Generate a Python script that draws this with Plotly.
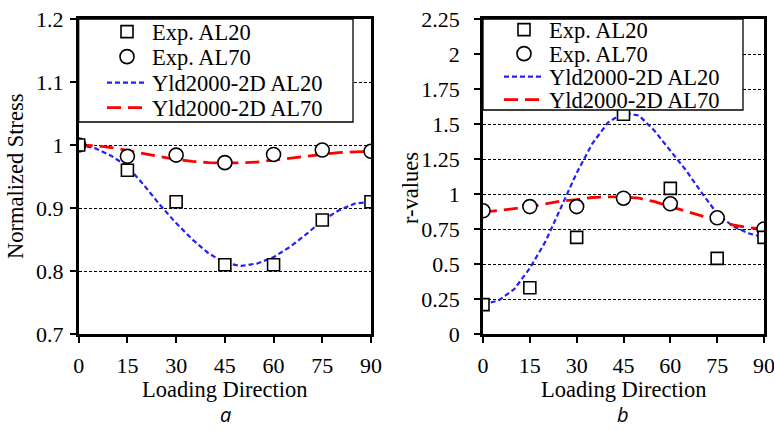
import plotly.graph_objects as go

# ---------------- data ----------------
angles = [0, 15, 30, 45, 60, 75, 90]
stress_al20 = [1.000, 0.960, 0.910, 0.810, 0.810, 0.881, 0.910]
stress_al70 = [1.000, 0.982, 0.984, 0.972, 0.985, 0.992, 0.990]
r_al20 = [0.21, 0.33, 0.69, 1.57, 1.04, 0.54, 0.69]
r_al70 = [0.88, 0.91, 0.91, 0.97, 0.93, 0.83, 0.75]

curve_angles = [0, 5, 10, 15, 20, 25, 30, 35, 40, 45, 50, 55, 60, 65, 70, 75, 80, 85, 90]
yld_stress_al20 = [1.000, 0.995, 0.983, 0.966, 0.937, 0.905, 0.876, 0.850, 0.828, 0.813,
                   0.808, 0.812, 0.822, 0.838, 0.858, 0.880, 0.896, 0.907, 0.910]
yld_stress_al70 = [1.000, 0.999, 0.996, 0.991, 0.986, 0.981, 0.977, 0.974, 0.972, 0.9715,
                   0.9715, 0.973, 0.976, 0.979, 0.982, 0.985, 0.988, 0.989, 0.990]
yld_r_al20 = [0.21, 0.24, 0.32, 0.47, 0.66, 0.90, 1.15, 1.36, 1.51, 1.58,
              1.56, 1.45, 1.31, 1.17, 1.01, 0.86, 0.77, 0.72, 0.69]
yld_r_al70 = [0.87, 0.88, 0.895, 0.91, 0.93, 0.95, 0.96, 0.975, 0.98, 0.98,
              0.97, 0.945, 0.91, 0.875, 0.84, 0.81, 0.78, 0.76, 0.75]

x_ticks = [0, 15, 30, 45, 60, 75, 90]
stress_ticks = [0.7, 0.8, 0.9, 1.0, 1.1, 1.2]
stress_tick_text = ["0.7", "0.8", "0.9", "1", "1.1", "1.2"]
r_ticks = [0, 0.25, 0.5, 0.75, 1.0, 1.25, 1.5, 1.75, 2.0, 2.25]
r_tick_text = ["0", "0.25", "0.5", "0.75", "1", "1.25", "1.5", "1.75", "2", "2.25"]

names = ["Exp. AL20", "Exp. AL70", "Yld2000-2D AL20", "Yld2000-2D AL70"]

SERIF = "Liberation Serif"
FS = 22.5
BLUE = "#1f1fff"
RED = "#ff0000"
W, H = 774, 430

fig = go.Figure()

# each legend entry gets its own legend so the entries can be spaced like the reference
def legend_cfg(xpix, ypix):
    return dict(x=xpix / W, y=1 - ypix / H, xanchor="left", yanchor="middle",
                bgcolor="rgba(0,0,0,0)", borderwidth=0, tracegroupgap=0,
                font=dict(family=SERIF, size=FS, color="black"), itemwidth=40)

def add_panel(xa, ya, legs, exp20, exp70, c20, c70):
    fig.add_trace(go.Scatter(x=curve_angles, y=c20, mode="lines", name=names[2],
                             line=dict(color=BLUE, width=2.2, dash="5px,3px"),
                             xaxis=xa, yaxis=ya, legend=legs[2]))
    fig.add_trace(go.Scatter(x=curve_angles, y=c70, mode="lines", name=names[3],
                             line=dict(color=RED, width=2.8, dash="14px,7px"),
                             xaxis=xa, yaxis=ya, legend=legs[3]))
    fig.add_trace(go.Scatter(x=angles, y=exp70, mode="markers", name=names[1],
                             marker=dict(symbol="circle", size=14, color="white",
                                         line=dict(color="black", width=1.6)),
                             xaxis=xa, yaxis=ya, legend=legs[1]))
    fig.add_trace(go.Scatter(x=angles, y=exp20, mode="markers", name=names[0],
                             marker=dict(symbol="square", size=12, color="white",
                                         line=dict(color="black", width=1.6)),
                             xaxis=xa, yaxis=ya, legend=legs[0]))

add_panel("x", "y", ["legend", "legend2", "legend3", "legend4"],
          stress_al20, stress_al70, yld_stress_al20, yld_stress_al70)
add_panel("x2", "y2", ["legend5", "legend6", "legend7", "legend8"],
          r_al20, r_al70, yld_r_al20, yld_r_al70)

ydom = [1 - 334 / H, 1 - 19 / H]

axis_common = dict(showline=True, linecolor="black", linewidth=2.5, mirror=True,
                   ticks="outside", ticklen=6, tickwidth=2, tickcolor="black",
                   tickfont=dict(family=SERIF, size=22, color="black"),
                   ticklabeloverflow="allow",
                   zeroline=False, automargin=False)

left_leg_y = [32, 57, 83, 108]
right_leg_y = [30, 54, 77, 100]
legends = {}
for i, yy in enumerate(left_leg_y):
    legends["legend" if i == 0 else f"legend{i + 1}"] = legend_cfg(102, yy)
for i, yy in enumerate(right_leg_y):
    legends[f"legend{i + 5}"] = legend_cfg(499, yy)

fig.update_layout(
    width=W, height=H,
    margin=dict(l=0, r=0, t=0, b=0),
    paper_bgcolor="white", plot_bgcolor="white",
    showlegend=True,
    xaxis=dict(domain=[78.7 / W, 371 / W], range=[0, 90], tickvals=x_ticks,
               showgrid=False, anchor="y", ticklabelstandoff=4, **axis_common),
    yaxis=dict(domain=ydom, range=[0.7, 1.2], tickvals=stress_ticks, ticktext=stress_tick_text,
               showgrid=True, gridcolor="black", gridwidth=1, griddash="3px,2px",
               anchor="x", ticklabelstandoff=2, **axis_common),
    xaxis2=dict(domain=[483 / W, 764 / W], range=[0, 90], tickvals=x_ticks,
                showgrid=False, anchor="y2", ticklabelstandoff=4, **axis_common),
    yaxis2=dict(domain=ydom, range=[0, 2.25], tickvals=r_ticks, ticktext=r_tick_text,
                showgrid=True, gridcolor="black", gridwidth=1, griddash="3px,2px",
                anchor="x2", ticklabelstandoff=10, **axis_common),
    **legends,
)

# legend frames (white boxes with black border)
fig.add_shape(type="rect", xref="x domain", yref="y domain",
              x0=0, x1=(353 - 78.7) / (371 - 78.7), y0=(334 - 122) / 315, y1=1,
              fillcolor="white", line=dict(color="black", width=1.3), layer="above")
fig.add_shape(type="rect", xref="x2 domain", yref="y2 domain",
              x0=0, x1=(743 - 483) / (764 - 483), y0=(334 - 110) / 315, y1=1,
              fillcolor="white", line=dict(color="black", width=1.3), layer="above")

# axis titles and panel labels
def label(text, x, y, family=SERIF, size=FS, angle=0):
    fig.add_annotation(text=text, x=x / W, y=1 - y / H, xref="paper", yref="paper",
                       xanchor="center", yanchor="middle", showarrow=False, textangle=angle,
                       font=dict(family=family, size=size, color="black"))

label("Loading Direction", 225, 389)
label("Loading Direction", 624, 389)
label("Normalized Stress", 15, 176, angle=-90)
label("r-values", 410, 188, angle=-90)
label("<i>a</i>", 225, 414, family="Open Sans", size=20)
label("<i>b</i>", 623, 414, family="Open Sans", size=20)

fig.write_html("out.html")
